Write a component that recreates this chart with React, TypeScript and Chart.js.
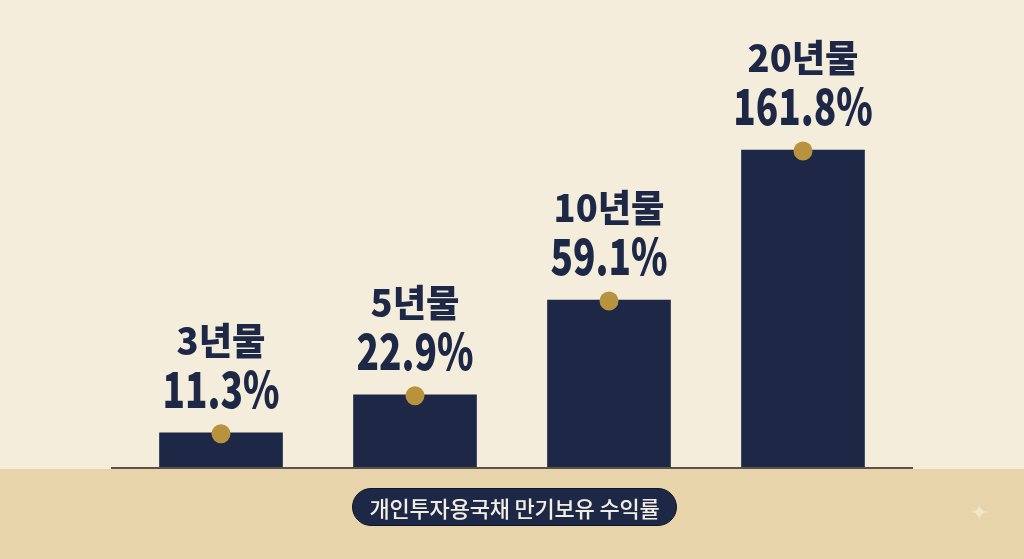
import React, { useEffect, useRef } from 'react';
import { Chart, registerables } from 'chart.js';

Chart.register(...registerables);

// 만기 구분, 만기보유 수익률(라벨), 그림에서 읽은 막대 높이(시각적 높이, 0~100 눈금)
const maturities = ['3년물', '5년물', '10년물', '20년물'];
const returns = [11.3, 22.9, 59.1, 161.8];
const barHeights = [8.8, 18.3, 42, 79.5];
const caption = '개인투자용국채 만기보유 수익률';

const NAVY = '#1c2846';
const GOLD = '#b8923c';

const labelPlugin = {
  id: 'barLabels',
  afterDatasetsDraw(chart: Chart) {
    const { ctx, chartArea } = chart;
    const meta = chart.getDatasetMeta(0);

    // 바닥 기준선
    ctx.save();
    ctx.strokeStyle = '#5b5347';
    ctx.lineWidth = 2;
    ctx.beginPath();
    ctx.moveTo(chartArea.left - 13, chartArea.bottom);
    ctx.lineTo(chartArea.right + 13, chartArea.bottom);
    ctx.stroke();
    ctx.restore();

    meta.data.forEach((bar: any, i: number) => {
      const { x, y } = bar;
      ctx.save();
      ctx.fillStyle = GOLD;
      ctx.beginPath();
      ctx.arc(x, y + 1, 9.5, 0, Math.PI * 2);
      ctx.fill();

      ctx.fillStyle = NAVY;
      ctx.textAlign = 'center';
      ctx.textBaseline = 'middle';

      ctx.save();
      ctx.translate(x, y - 44);
      ctx.scale(0.74, 1);
      ctx.font = '900 50px "Noto Sans CJK KR", "Noto Sans", sans-serif';
      ctx.fillText(returns[i].toFixed(1) + '%', 0, 0);
      ctx.restore();

      ctx.save();
      ctx.translate(x, y - 92);
      ctx.scale(0.98, 1);
      ctx.font = '800 37px "Noto Sans CJK KR", "Noto Sans", sans-serif';
      ctx.fillText(maturities[i], 0, 0);
      ctx.restore();
      ctx.restore();
    });
  },
};

export default function App() {
  const canvasRef = useRef<HTMLCanvasElement>(null);
  const chartInstance = useRef<Chart | null>(null);

  useEffect(() => {
    document.body.style.margin = '0';
    if (!canvasRef.current) return;
    const ctx = canvasRef.current.getContext('2d');
    if (!ctx) return;

    chartInstance.current = new Chart(ctx, {
      type: 'bar',
      data: {
        labels: maturities,
        datasets: [
          {
            data: barHeights,
            backgroundColor: NAVY,
            borderWidth: 0,
            barThickness: 123,
          },
        ],
      },
      options: {
        animation: false,
        responsive: true,
        maintainAspectRatio: false,
        layout: { padding: { left: 124, right: 124, top: 68, bottom: 91 } },
        scales: {
          x: { display: false },
          y: { display: false, min: 0, max: 100 },
        },
        plugins: {
          legend: { display: false },
          tooltip: { enabled: false },
        },
      },
      plugins: [labelPlugin],
    });

    return () => {
      chartInstance.current?.destroy();
    };
  }, []);

  return (
    <div
      style={{
        position: 'fixed',
        left: 0,
        top: 0,
        width: 1024,
        height: 559,
        background: 'linear-gradient(to bottom, #f5eddb 0, #f5eddb 469px, #e8d4aa 469px, #e8d4aa 100%)',
        overflow: 'hidden',
      }}
    >
      <div style={{ position: 'absolute', inset: 0 }}>
        <canvas ref={canvasRef} />
      </div>
      <div
        style={{
          position: 'absolute',
          left: 352,
          top: 488,
          width: 325,
          height: 38,
          boxSizing: 'border-box',
          borderRadius: 19,
          background: NAVY,
          border: '1px solid #0f1629',
          color: '#f2eee4',
          font: '500 22px "Noto Sans CJK KR", sans-serif',
          display: 'flex',
          alignItems: 'center',
          justifyContent: 'center',
          letterSpacing: -0.2,
        }}
      >
        {caption}
      </div>
      <div
        style={{
          position: 'absolute',
          left: 970,
          top: 500,
          color: '#f3e7c9',
          fontSize: 22,
          fontFamily: '"DejaVu Sans", sans-serif',
        }}
      >
        ✦
      </div>
    </div>
  );
}
